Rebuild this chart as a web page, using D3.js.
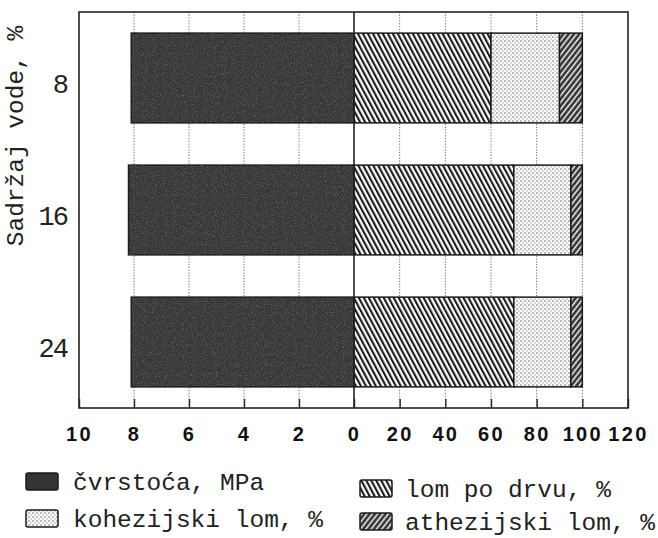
<!DOCTYPE html>
<html>
<head>
<meta charset="utf-8">
<script src="https://cdn.jsdelivr.net/npm/d3@7/dist/d3.min.js"></script>
<style>
  html, body { margin: 0; padding: 0; background: #ffffff; }
  svg { display: block; }
</style>
</head>
<body>
<svg id="chart" width="658" height="538"></svg>
<script>
// Water content groups (%)
const categories = ["8", "16", "24"];
// Bond strength, MPa (left half)
const cvrstoca = [8.1, 8.2, 8.1];
// Failure type shares, % (right half, stacked)
const lomPoDrvu = [60, 70, 70];
const kohezijskiLom = [30, 25, 25];
const athezijskiLom = [10, 5, 5];
// Axis ticks
const leftTicks = [10, 8, 6, 4, 2];
const rightTicks = [0, 20, 40, 60, 80, 100, 120];
// Texts
const yTitle = "Sadržaj vode, %";
const legendLabels = ["čvrstoća, MPa", "kohezijski lom, %", "lom po drvu, %", "athezijski lom, %"];

const svg = d3.select("#chart");
const frame = { left: 79, right: 628, top: 12, bottom: 408 };
const zeroX = 354;

const xLeft = d3.scaleLinear().domain([10, 0]).range([frame.left, zeroX]);
const xRight = d3.scaleLinear().domain([0, 120]).range([zeroX, frame.right]);
const y = d3.scaleBand().domain(categories).range([frame.top, frame.bottom])
  .paddingInner(0.32).paddingOuter(0.16);

const mono = "'Liberation Mono', 'DejaVu Sans Mono', monospace";

// ---- fill patterns ----
const defs = svg.append("defs");

// lom po drvu: black back-slant hatch on white
const pHatch = defs.append("pattern").attr("id", "hatch-drvo")
  .attr("patternUnits", "userSpaceOnUse").attr("width", 4.4).attr("height", 10)
  .attr("patternTransform", "rotate(-28)");
pHatch.append("rect").attr("width", 4.4).attr("height", 10).attr("fill", "#fff");
pHatch.append("rect").attr("x", 0).attr("width", 2.1).attr("height", 10).attr("fill", "#1a1a1a");

// kohezijski lom: fine grey stipple on white
const pDots = defs.append("pattern").attr("id", "dots-koh")
  .attr("patternUnits", "userSpaceOnUse").attr("width", 4).attr("height", 4);
pDots.append("rect").attr("width", 4).attr("height", 4).attr("fill", "#fafafa");
pDots.append("circle").attr("cx", 1).attr("cy", 1).attr("r", 0.8).attr("fill", "#6e6e6e");
pDots.append("circle").attr("cx", 3).attr("cy", 3).attr("r", 0.7).attr("fill", "#999");

// athezijski lom: white forward-slant hatch on dark grey
const pAth = defs.append("pattern").attr("id", "hatch-ath")
  .attr("patternUnits", "userSpaceOnUse").attr("width", 4.2).attr("height", 10)
  .attr("patternTransform", "rotate(38)");
pAth.append("rect").attr("width", 4.2).attr("height", 10).attr("fill", "#3c3c3c");
pAth.append("rect").attr("x", 0).attr("width", 1.5).attr("height", 10).attr("fill", "#e6e6e6");

// čvrstoća: dark speckled fill
const fNoise = defs.append("filter").attr("id", "speckle")
  .attr("x", 0).attr("y", 0).attr("width", 1).attr("height", 1);
fNoise.append("feTurbulence").attr("type", "fractalNoise")
  .attr("baseFrequency", 0.9).attr("numOctaves", 2).attr("seed", 3).attr("result", "n");
fNoise.append("feColorMatrix").attr("in", "n").attr("type", "matrix")
  .attr("values", "0 0 0 0 0.6  0 0 0 0 0.6  0 0 0 0 0.6  1.6 0 0 0 -0.8")
  .attr("result", "sp");
fNoise.append("feComposite").attr("in", "sp").attr("in2", "SourceGraphic").attr("operator", "in");

const fills = ["url(#hatch-drvo)", "url(#dots-koh)", "url(#hatch-ath)"];

// ---- grid lines (dotted) ----
const grid = svg.append("g");
leftTicks.filter(t => t !== 10).forEach(t => {
  grid.append("line").attr("x1", xLeft(t)).attr("x2", xLeft(t))
    .attr("y1", frame.top).attr("y2", frame.bottom)
    .attr("stroke", "#666").attr("stroke-width", 1).attr("stroke-dasharray", "1.2,1.6");
});
rightTicks.filter(t => t !== 0 && t !== 120).forEach(t => {
  grid.append("line").attr("x1", xRight(t)).attr("x2", xRight(t))
    .attr("y1", frame.top).attr("y2", frame.bottom)
    .attr("stroke", "#666").attr("stroke-width", 1).attr("stroke-dasharray", "1.2,1.6");
});

// ---- left bars: strength ----
const rows = categories.map((c, i) => ({
  cat: c, mpa: cvrstoca[i], drvo: lomPoDrvu[i], koh: kohezijskiLom[i], ath: athezijskiLom[i]
}));

const leftG = svg.append("g");
leftG.selectAll("rect.base").data(rows).join("rect")
  .attr("x", d => xLeft(d.mpa)).attr("y", d => y(d.cat))
  .attr("width", d => zeroX - xLeft(d.mpa)).attr("height", y.bandwidth())
  .attr("fill", "#383838").attr("stroke", "#1a1a1a").attr("stroke-width", 1.5);
leftG.selectAll("rect.tex").data(rows).join("rect")
  .attr("x", d => xLeft(d.mpa)).attr("y", d => y(d.cat))
  .attr("width", d => zeroX - xLeft(d.mpa)).attr("height", y.bandwidth())
  .attr("fill", "#000").attr("filter", "url(#speckle)").attr("opacity", 0.55);

// ---- right bars: stacked failure shares ----
const stack = d3.stack().keys(["drvo", "koh", "ath"]);
const series = stack(rows);
const rightG = svg.append("g");
series.forEach((s, k) => {
  rightG.append("g").selectAll("rect").data(s).join("rect")
    .attr("x", d => xRight(d[0])).attr("y", d => y(d.data.cat))
    .attr("width", d => xRight(d[1]) - xRight(d[0])).attr("height", y.bandwidth())
    .attr("fill", fills[k]).attr("stroke", "#1a1a1a").attr("stroke-width", 1.5);
});

// ---- frame and zero line ----
svg.append("rect").attr("x", frame.left).attr("y", frame.top)
  .attr("width", frame.right - frame.left).attr("height", frame.bottom - frame.top)
  .attr("fill", "none").attr("stroke", "#222").attr("stroke-width", 1.6);
svg.append("line").attr("x1", zeroX).attr("x2", zeroX)
  .attr("y1", frame.top).attr("y2", frame.bottom)
  .attr("stroke", "#222").attr("stroke-width", 1.6);

// ---- x axes (ticks inward, bold labels below) ----
function styleAxis(g) {
  g.select(".domain").remove();
  g.selectAll(".tick line").attr("stroke", "#222").attr("stroke-width", 1.4);
  g.selectAll(".tick text")
    .attr("font-family", "'Liberation Sans', Arial, sans-serif")
    .attr("font-weight", "bold").attr("font-size", 20)
    .attr("letter-spacing", 2.3).attr("fill", "#111");
}
svg.append("g").attr("transform", `translate(0,${frame.bottom})`)
  .call(d3.axisBottom(xLeft).tickValues(leftTicks).tickSizeInner(-9).tickSizeOuter(0)
    .tickPadding(19).tickFormat(d3.format("d")))
  .call(styleAxis);
svg.append("g").attr("transform", `translate(0,${frame.bottom})`)
  .call(d3.axisBottom(xRight).tickValues(rightTicks).tickSizeInner(-9).tickSizeOuter(0)
    .tickPadding(19).tickFormat(d3.format("d")))
  .call(styleAxis);

// ---- category labels ----
svg.append("g").selectAll("text").data(categories).join("text")
  .attr("x", 67).attr("y", d => y(d) + y.bandwidth() / 2 + 15)
  .attr("text-anchor", "end")
  .attr("font-family", mono).attr("font-size", 27).attr("letter-spacing", -2)
  .attr("fill", "#222").text(d => d);

// ---- y title ----
svg.append("text")
  .attr("transform", "translate(23,136) rotate(-90)")
  .attr("text-anchor", "middle")
  .attr("font-family", mono).attr("font-size", 24.5).attr("fill", "#222")
  .text(yTitle);

// ---- legend ----
const legendItems = [
  { label: legendLabels[0], fill: "#343434", sx: 26, tx: 73, base: 490 },
  { label: legendLabels[1], fill: "url(#dots-koh)", sx: 26, tx: 73, base: 527 },
  { label: legendLabels[2], fill: "url(#hatch-drvo)", sx: 360, tx: 405, base: 497 },
  { label: legendLabels[3], fill: "url(#hatch-ath)", sx: 360, tx: 405, base: 530 }
];
const lg = svg.append("g");
legendItems.forEach(it => {
  lg.append("rect").attr("x", it.sx).attr("y", it.base - 17)
    .attr("width", 32).attr("height", 17).attr("rx", 2)
    .attr("fill", it.fill).attr("stroke", "#1a1a1a").attr("stroke-width", 1.5);
  lg.append("text").attr("x", it.tx).attr("y", it.base)
    .attr("font-family", mono).attr("font-size", 24.5).attr("fill", "#222")
    .text(it.label);
});
</script>
</body>
</html>
